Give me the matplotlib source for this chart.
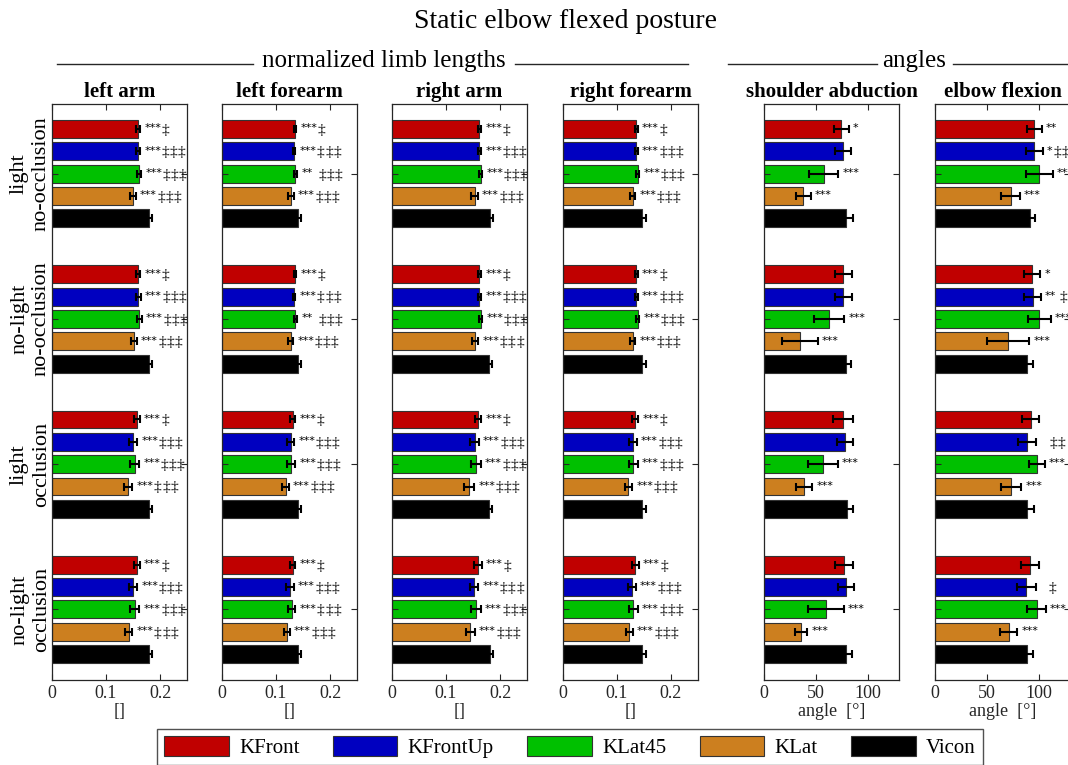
import matplotlib
matplotlib.use('Agg')
import matplotlib.pyplot as plt
import matplotlib.transforms as mtransforms
from matplotlib.lines import Line2D
from matplotlib.patches import Patch
import numpy as np

plt.rcParams['font.family'] = ['Liberation Serif', 'DejaVu Serif']

W, H = 1068, 765

methods = ['KFront', 'KFrontUp', 'KLat45', 'KLat', 'Vicon']
colors = ['#C00000', '#0000C0', '#00C000', '#CC7F1F', '#000000']
conditions = ['light\nno-occlusion', 'no-light\nno-occlusion',
              'light\nocclusion', 'no-light\nocclusion']

# rows = conditions, columns = methods
left_arm_mean = [[0.159, 0.159, 0.161, 0.150, 0.180],
                 [0.159, 0.160, 0.162, 0.152, 0.180],
                 [0.157, 0.150, 0.153, 0.141, 0.180],
                 [0.157, 0.150, 0.153, 0.142, 0.180]]
left_arm_err = [[0.004, 0.004, 0.004, 0.0055, 0.006],
                [0.004, 0.004, 0.004, 0.005, 0.006],
                [0.0055, 0.008, 0.0085, 0.008, 0.006],
                [0.0055, 0.008, 0.009, 0.007, 0.006]]

left_forearm_mean = [[0.135, 0.134, 0.136, 0.127, 0.141],
                     [0.135, 0.134, 0.136, 0.127, 0.141],
                     [0.131, 0.127, 0.128, 0.118, 0.141],
                     [0.131, 0.126, 0.129, 0.120, 0.141]]
left_forearm_err = [[0.002, 0.002, 0.003, 0.0055, 0.006],
                    [0.002, 0.002, 0.003, 0.005, 0.006],
                    [0.0045, 0.0065, 0.0075, 0.006, 0.006],
                    [0.005, 0.007, 0.007, 0.005, 0.006]]

right_arm_mean = [[0.162, 0.162, 0.164, 0.153, 0.181],
                  [0.162, 0.162, 0.164, 0.154, 0.180],
                  [0.159, 0.153, 0.155, 0.143, 0.180],
                  [0.159, 0.152, 0.155, 0.145, 0.181]]
right_arm_err = [[0.003, 0.003, 0.003, 0.006, 0.006],
                 [0.003, 0.003, 0.003, 0.006, 0.006],
                 [0.006, 0.008, 0.0095, 0.009, 0.006],
                 [0.0075, 0.008, 0.009, 0.008, 0.006]]

right_forearm_mean = [[0.136, 0.136, 0.138, 0.129, 0.147],
                      [0.136, 0.136, 0.138, 0.129, 0.147],
                      [0.134, 0.129, 0.130, 0.121, 0.147],
                      [0.134, 0.128, 0.130, 0.123, 0.147]]
right_forearm_err = [[0.002, 0.002, 0.003, 0.005, 0.006],
                     [0.002, 0.002, 0.003, 0.005, 0.006],
                     [0.0055, 0.0075, 0.0085, 0.0068, 0.006],
                     [0.006, 0.007, 0.008, 0.006, 0.006]]

shoulder_mean = [[74.5, 76.5, 57.4, 38.0, 79.4],
                 [76.5, 76.5, 62.6, 34.5, 79.0],
                 [76.0, 78.0, 56.5, 38.4, 80.0],
                 [76.8, 78.7, 59.7, 35.5, 79.4]]
shoulder_err = [[7.3, 7.7, 14.0, 7.0, 6.0],
                [8.5, 8.2, 14.5, 17.4, 4.5],
                [9.7, 7.6, 14.5, 8.0, 5.5],
                [8.7, 7.7, 17.3, 6.0, 5.5]]

elbow_mean = [[95.8, 95.5, 100.3, 72.8, 91.3],
              [93.3, 94.0, 100.3, 70.5, 88.5],
              [92.3, 88.5, 97.8, 73.4, 89.0],
              [91.7, 88.0, 97.8, 70.8, 88.5]]
elbow_err = [[7.0, 8.2, 13.0, 9.0, 5.0],
             [7.9, 7.9, 11.2, 20.0, 6.0],
             [8.2, 8.8, 7.7, 9.6, 6.4],
             [8.8, 9.0, 9.0, 8.5, 6.0]]

# significance marks next to each bar (stars, then double daggers)
limb_notes = [['***‡', '***‡‡‡', '***‡‡‡', '***‡‡‡', '']] * 4
left_forearm_notes = [['***‡', '***‡‡‡', '**  ‡‡‡', '***‡‡‡', ''],
                      ['***‡', '***‡‡‡', '**  ‡‡‡', '***‡‡‡', ''],
                      ['***‡', '***‡‡‡', '***‡‡‡', '***‡‡‡', ''],
                      ['***‡', '***‡‡‡', '***‡‡‡', '***‡‡‡', '']]
shoulder_notes = [['*', '', '***', '***', ''],
                  ['', '', '***', '***', ''],
                  ['', '', '***', '***', ''],
                  ['', '', '***', '***', '']]
elbow_notes = [['**', '*‡‡', '***', '***', ''],
               ['*', '** ‡‡', '***', '***', ''],
               ['', '   ‡‡', '***', '***', ''],
               ['', '   ‡', '***', '***', '']]

limb_ticks = [0, 0.1, 0.2]
limb_ticklabels = ['0', '0.1', '0.2']
angle_ticks = [0, 50, 100]
angle_ticklabels = ['0', '50', '100']

panels = [
    ('left arm', left_arm_mean, left_arm_err, limb_notes, 52, (0, 0.25), limb_ticks, limb_ticklabels, '[]'),
    ('left forearm', left_forearm_mean, left_forearm_err, left_forearm_notes, 222, (0, 0.25), limb_ticks, limb_ticklabels, '[]'),
    ('right arm', right_arm_mean, right_arm_err, limb_notes, 392, (0, 0.25), limb_ticks, limb_ticklabels, '[]'),
    ('right forearm', right_forearm_mean, right_forearm_err, limb_notes, 563, (0, 0.25), limb_ticks, limb_ticklabels, '[]'),
    ('shoulder abduction', shoulder_mean, shoulder_err, shoulder_notes, 764, (0, 130), angle_ticks, angle_ticklabels, 'angle  [°]'),
    ('elbow flexion', elbow_mean, elbow_err, elbow_notes, 935, (0, 130), angle_ticks, angle_ticklabels, 'angle  [°]'),
]

STAR_FS = 8
DAGGER_FS = 11
DAGGER_STEP = 5.8  # points between double daggers


def add_note(ax, note, x, y):
    """Stars in a small sans font, double daggers spaced out right after them"""
    if '‡' in note:
        k = note.index('‡')
        stars, daggers = note[:k], note[k:]
    else:
        stars, daggers = note, ''
    if stars.strip():
        ax.annotate(stars.strip(), xy=(x, y), xytext=(3, 0.5), textcoords='offset points',
                    ha='left', va='center', fontsize=STAR_FS, family='DejaVu Sans',
                    annotation_clip=False)
    off = 3 + 4.0 * stars.count('*') + 2.0 * stars.count(' ') + 0.5
    for j, ch in enumerate(daggers):
        ax.annotate(ch, xy=(x, y), xytext=(off + j * DAGGER_STEP, -1), textcoords='offset points',
                    ha='left', va='center', fontsize=DAGGER_FS, annotation_clip=False)


def draw_panel(fig, title, means, errs, notes, left_px, xlim, ticks, ticklabels, xlabel, first):
    ax = fig.add_axes([left_px / W, 1 - 680 / H, 135 / W, 576 / H])
    centers = []
    for g in range(4):
        y = g * 6.5 + np.arange(5) + 1
        centers.append(g * 6.5 + 3)
        ax.barh(y, means[g], height=0.8, color=colors, edgecolor='#333333', linewidth=0.8,
                xerr=errs[g], error_kw=dict(ecolor='black', elinewidth=1.5, capsize=2.8, capthick=1.5))
        for i in range(5):
            if notes[g][i]:
                add_note(ax, notes[g][i], means[g][i] + errs[g][i], y[i])
    ax.set_xlim(*xlim)
    ax.set_ylim(25.66, -0.12)
    ax.set_yticks(centers)
    ax.set_yticklabels([])
    ax.set_xticks(ticks)
    ax.set_xticklabels(ticklabels, fontsize=13)
    ax.tick_params(direction='in', top=True, right=True, length=4, width=0.8, colors='#262626', labelcolor='#262626')
    for sp in ax.spines.values():
        sp.set_color('#262626')
        sp.set_linewidth(0.9)
    ax.set_xlabel(xlabel, fontsize=13, labelpad=1, color='#262626')
    ax.set_title(title, fontsize=15, fontweight='bold', pad=5)

    if first:
        trans = mtransforms.blended_transform_factory(ax.transAxes, ax.transData)
        for c, label in zip(centers, conditions):
            ax.text(-0.16, c, label, transform=trans, rotation=90, ha='center', va='center',
                    fontsize=16, multialignment='center')
    return ax


def main():
    fig = plt.figure(figsize=(W / 100, H / 100), dpi=100)

    for k, p in enumerate(panels):
        draw_panel(fig, *p, first=(k == 0))

    fig.text(566 / W, 1 - 21 / H, 'Static elbow flexed posture', ha='center', va='center', fontsize=20)

    # section headings with rules
    fig.text(384 / W, 1 - 61 / H, 'normalized limb lengths', ha='center', va='center', fontsize=18)
    fig.text(914 / W, 1 - 61 / H, 'angles', ha='center', va='center', fontsize=18)
    for x0, x1 in [(57, 253), (515, 688), (728, 877), (953, 1068)]:
        fig.add_artist(Line2D([x0 / W, x1 / W], [1 - 64 / H, 1 - 64 / H], color='#262626', lw=1))

    handles = [Patch(facecolor=c, edgecolor='#333333', linewidth=0.8) for c in colors]
    fig.legend(handles, methods, loc='upper center', bbox_to_anchor=(570 / W, 1 - 729 / H), ncol=5,
               frameon=True, fancybox=False, edgecolor='#262626', fontsize=15, handlelength=3.1,
               handleheight=1.05, columnspacing=1.6, handletextpad=0.5, borderpad=0.35, borderaxespad=0)

    fig.savefig('out.png', dpi=100)


if __name__ == "__main__":
    main()
